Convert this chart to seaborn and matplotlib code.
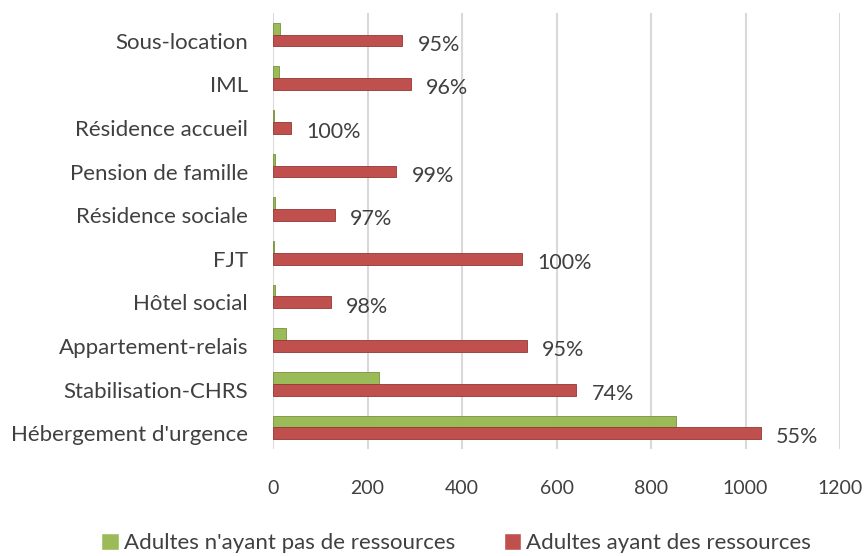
import pandas as pd
import seaborn as sns
import matplotlib.pyplot as plt
from matplotlib.transforms import ScaledTranslation

# --- data (top to bottom) ---
categories = ["Sous-location", "IML", "Résidence accueil", "Pension de famille",
              "Résidence sociale", "FJT", "Hôtel social", "Appartement-relais",
              "Stabilisation-CHRS", "Hébergement d'urgence"]
sans_ressources = [14, 12, 1, 3, 4, 2, 3, 28, 225, 853]
avec_ressources = [273, 292, 38, 261, 131, 526, 122, 537, 642, 1032]
pct_labels = ["95%", "96%", "100%", "99%", "97%", "100%", "98%", "95%", "74%", "55%"]

serie_vert = "Adultes n'ayant pas de ressources"
serie_rouge = "Adultes ayant des ressources"

df = pd.DataFrame({
    "categorie": categories * 2,
    "valeur": sans_ressources + avec_ressources,
    "serie": [serie_vert] * len(categories) + [serie_rouge] * len(categories),
})

sns.set_style("white")
plt.rcParams["font.family"] = ["Lato", "DejaVu Sans"]
text_color = "#404040"

fig = plt.figure(figsize=(8.67, 5.56), dpi=100)
ax = fig.add_axes([0.315, 0.192, 0.654, 0.785])

palette = {serie_vert: "#9BBB59", serie_rouge: "#C0504D"}
sns.barplot(data=df, x="valeur", y="categorie", hue="serie", order=categories,
            hue_order=[serie_vert, serie_rouge], palette=palette, orient="h",
            width=0.54, gap=0, saturation=1, ax=ax, legend=True)

# darker edge to hint at the Excel 3D bevel
edge = {0: "#76923C", 1: "#943634"}
for i, cont in enumerate(ax.containers):
    for bar in cont:
        bar.set_edgecolor(edge[i])
        bar.set_linewidth(0.6)

# percentage labels next to the red bars
for bar, txt in zip(ax.containers[1], pct_labels):
    ax.annotate(txt, (bar.get_width(), bar.get_y() + bar.get_height() / 2),
                xytext=(11, -3), textcoords="offset points", va="center",
                ha="left", fontsize=15.5, color=text_color)

ax.set_xlim(0, 1200)
ax.set_ylim(len(categories) - 0.5, -0.5)
ax.set_xticks(range(0, 1201, 200))
ax.set_xlabel("")
ax.set_ylabel("")
ax.grid(axis="x", color="#D9D9D9", linewidth=1.5)
ax.set_axisbelow(True)
for s in ax.spines.values():
    s.set_visible(False)

ax.tick_params(axis="x", length=0, pad=22, labelsize=14, labelcolor=text_color)
ax.tick_params(axis="y", length=0, pad=18, labelsize=16, labelcolor=text_color)
shift = ScaledTranslation(0, -6 / 100, fig.dpi_scale_trans)
for lab in ax.get_yticklabels():
    lab.set_transform(lab.get_transform() + shift)

ax.get_legend().remove()
handles, labels = ax.get_legend_handles_labels()
fig.legend(handles, labels, loc="center", bbox_to_anchor=(0.526, 0.024),
           ncol=2, frameon=False, fontsize=16, labelcolor=text_color,
           handlelength=0.8, handleheight=0.8, handletextpad=0.2,
           columnspacing=2.2, borderpad=0)

fig.savefig("out.png", dpi=100)
